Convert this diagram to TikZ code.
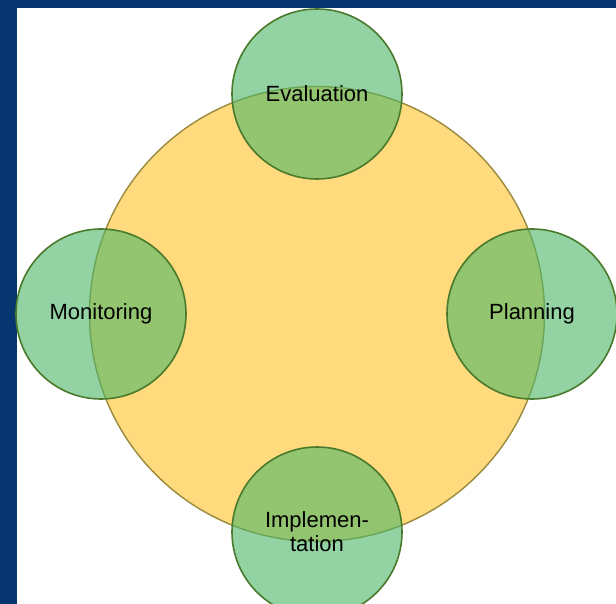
\documentclass[tikz,border=0pt]{standalone}
\usepackage{fontspec}
\setmainfont{Liberation Sans}

\definecolor{frameblue}{HTML}{05346F}
\definecolor{cyclefill}{HTML}{FFDB7E}
\definecolor{cycleline}{HTML}{9A8A3E}
\definecolor{phasefill}{HTML}{4BB666}
\definecolor{phaseline}{HTML}{4A7A2C}

\begin{document}
\begin{tikzpicture}[x=1pt,y=-1pt,
    phase/.style={circle,draw=phaseline,line width=1.6pt,fill=phasefill,
        fill opacity=0.6,text opacity=1,minimum size=170pt,inner sep=0pt,
        align=center,font=\fontsize{22}{24}\selectfont}]
    \useasboundingbox (0,0) rectangle (616,604);
    \fill[frameblue] (0,0) rectangle (616,604);
    \fill[white] (17,8) rectangle (616,604);

    % the cycle and its four phases
    \node[circle,draw=cycleline,line width=1.4pt,fill=cyclefill,
        minimum size=455pt,inner sep=0pt] (cycle) at (317,314) {};

    \node[phase] (evaluation) at (317,94) {Evaluation};
    \node[phase] (planning) at (532,314) {Planning};
    \node[phase] (implementation) at (317,532) {Implemen-\\tation};
    \node[phase] (monitoring) at (101,314) {Monitoring};
\end{tikzpicture}
\end{document}
